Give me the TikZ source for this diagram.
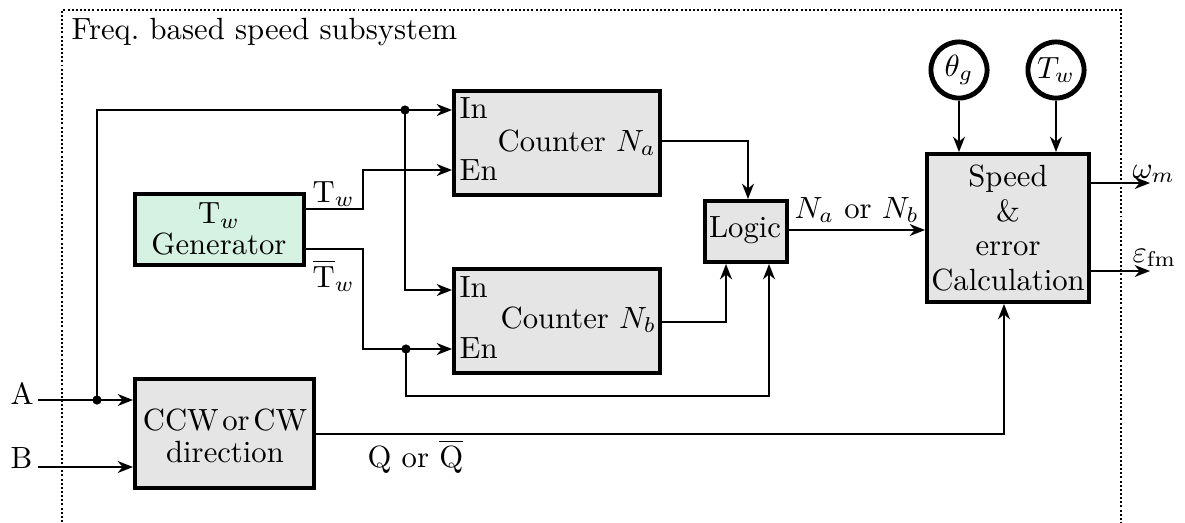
\documentclass[tikz,border=0pt]{standalone}
\usetikzlibrary{arrows.meta,fit,calc}
\definecolor{boxgray}{RGB}{229,229,229}
\definecolor{boxgreen}{RGB}{214,242,226}
\begin{document}
\begin{tikzpicture}[x=0.326pt,y=-0.326pt,
  conn/.style={line width=0.65pt},
  arr/.style={conn,-{Stealth[length=5pt,width=3.9pt,inset=1.6pt]}},
  blk/.style={draw,line width=1.3pt,fill=boxgray,inner sep=0pt},
  genblk/.style={blk,fill=boxgreen},
  frame/.style={line width=0.65pt,dash pattern=on 0.65pt off 0.7pt},
  lab/.style={inner sep=0pt},
  txt/.style={inner sep=0pt,align=center},
  sig/.style={draw,circle,line width=1.6pt,minimum size=18.3pt,inner sep=0pt},
  dot/.style={circle,fill,inner sep=0pt,minimum size=3pt}]
\useasboundingbox (0,0) rectangle (1185,522);
% frame
\draw[frame] (62,522) -- (62,10) -- (1121,10) -- (1121,522);
\node[lab,anchor=base west] (title) at (71,39) {Freq.~based speed subsystem};
% blocks
\node[genblk,fit={(135,194) (304,265)}] (gen) {};
\node[blk,fit={(135,379) (314,488)}] (ccw) {};
\node[blk,fit={(454,91) (660,195)}] (na) {};
\node[blk,fit={(454,269) (660,373)}] (nb) {};
\node[blk,fit={(705,201) (787,262)}] (logic) {};
\node[blk,fit={(927,154) (1089,302)}] (speed) {};
\node[sig] (th) at (959,70) {$\theta_g$};
\node[sig] (tw) at (1056,70) {$T_w$};
% block texts
\node[txt,font=\fontsize{10}{10}\selectfont] (gent) at (219,229) {T$_w$\\Generator};
\node[txt,font=\fontsize{10}{10.3}\selectfont] (ccwt) at (225,436) {CCW\hspace{1.2pt}or\hspace{1.2pt}CW\\direction};
\node[lab,anchor=base] (logict) at (745,237) {Logic};
\node[txt,font=\fontsize{10}{11.2}\selectfont] (speedt) at (1008,228) {Speed\\\&\\error\\Calculation};
% counter texts
\node[lab,anchor=base west] (nain) at (459,118) {In};
\node[lab,anchor=base west] (naen) at (459,180) {En};
\node[lab,anchor=base west] (nat) at (497,151) {Counter $N_a$};
\node[lab,anchor=base west] (nbin) at (459,297) {In};
\node[lab,anchor=base west] (nben) at (459,358) {En};
\node[lab,anchor=base west] (nbt) at (500,328) {Counter $N_b$};
% inputs
\coordinate (aS) at (38,400);
\coordinate (bS) at (38,467);
\coordinate (ja) at (97,400);
\coordinate (j1) at (405,110);
\coordinate (j2) at (406,349);
\node[lab,anchor=base west] (alab) at (10,404) {A};
\node[lab,anchor=base west] (blab) at (10,468) {B};
\draw[arr] (aS) -- (ccw.west |- aS);
\draw[arr] (bS) -- (ccw.west |- bS);
\draw[arr] (ja) |- (j1) -- (na.west |- j1);
\draw[arr] (j1) |- (nb.west |- 0,290);
% generator outputs
\draw[arr] (gen.east |- 0,209) -- (363,209) |- (na.west |- 0,170);
\draw[arr] (gen.east |- 0,249) -- (363,249) |- (nb.west |- j2);
\node[lab,anchor=base west] (twl) at (312,202) {T$_w$};
\node[lab,anchor=base west] (twbl) at (312,287) {$\overline{\mathrm{T}}_w$};
\draw[arr] (j2) -- (406,396) -| (logic.south -| 769,0);
% counters to logic
\draw[arr] (na.east |- 0,141) -| (logic.north -| 748,0);
\draw[arr] (nb.east |- 0,322) -| (logic.south -| 726,0);
% logic to speed
\draw[arr] (logic.east |- 0,230) -- (speed.west |- 0,230);
\node[lab,anchor=base west] (nanb) at (794,218) {$N_a$ or $N_b$};
% references
\draw[arr] (th) -- (th |- speed.north);
\draw[arr] (tw) -- (tw |- speed.north);
% outputs
\coordinate (wend) at (1150,183);
\coordinate (eend) at (1150,271);
\draw[arr] (speed.east |- wend) -- (wend);
\draw[arr] (speed.east |- eend) -- (eend);
\node[lab,anchor=base west] (wl) at (1132,178) {$\omega_m$};
\node[lab,anchor=base west] (el) at (1132,262) {$\varepsilon_{\mathrm{fm}}$};
% direction to speed
\draw[arr] (ccw.east |- 0,434) -| (speed.south -| 1004,0);
\node[lab,anchor=base west] (ql) at (367,467) {Q or $\overline{\mathrm{Q}}$};
% junction dots
\node[dot] (dja) at (ja) {};
\node[dot] (dj1) at (j1) {};
\node[dot] (dj2) at (j2) {};
\end{tikzpicture}
\end{document}
